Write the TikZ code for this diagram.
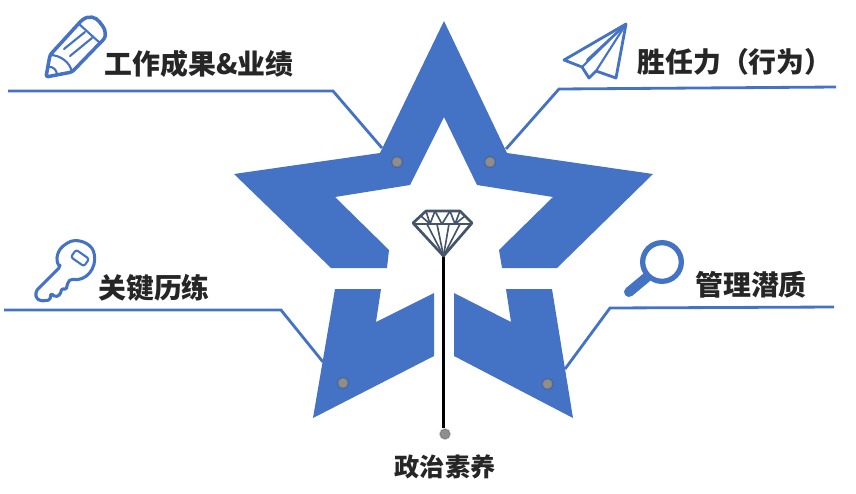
\documentclass[tikz,border=0pt]{standalone}
\usepackage{fontspec}
\usepackage{tikz}
\usetikzlibrary{calc}
\setmainfont{Noto Sans CJK SC}
\definecolor{starblue}{HTML}{4472C4}
\definecolor{gemgray}{HTML}{44546A}
\definecolor{dotgray}{HTML}{8E8E8E}

\begin{document}
\begin{tikzpicture}[
            x = 0.03cm, % one unit is one pixel of the layout
            y = -0.03cm,
            semithick, % line style
            leader/.style = {draw = starblue, line width = 2.4pt},
            icon/.style = {draw = starblue, line width = 3pt, line join = round, line cap = round},
            thinicon/.style = {draw = starblue, line width = 1.8pt, line join = round, line cap = round},
            gem/.style = {draw = gemgray, line width = 1.4pt, line join = round},
            pin/.style = {circle, fill = dotgray, draw = black, draw opacity = 0.12, line width = 1.4pt, minimum size = 0.32cm, inner sep = 0pt},
            title/.style = {font = \fontsize{23.8}{25}\selectfont\bfseries, inner sep = 0pt, text = black!85}
        ]
        \useasboundingbox (0,0) rectangle (856,493);

	% star pieces
        \fill[starblue] (234,174) -- (380,153) -- (444,21) -- (507,153) -- (653,174)
            -- (557,268) -- (502,268) -- (499,250) -- (553,197) -- (477,185) -- (444,117)
            -- (410,185) -- (335,197) -- (389,250) -- (387,268) -- (331,268) -- cycle;
        \fill[starblue] (335,289) -- (381,289) -- (376,322) -- (434,293) -- (434,356) -- (313,418) -- cycle;
        \fill[starblue] (506,289) -- (552,289) -- (573,418) -- (454,356) -- (454,293) -- (511,322) -- cycle;

	% labels
        \node[title] (work) at (199,64) {工作成果\&业绩};
        \node[title] (comp) at (735,62) {胜任力（行为）};
        \node[title] (exp) at (154,288) {关键历练};
        \node[title] (pot) at (751,285) {管理潜质};
        \node[title, font = \fontsize{21.5}{23}\selectfont\bfseries] (pol) at (445,467) {政治素养};

	% leader lines
        \coordinate (workA) at (8,91);
        \coordinate (workB) at (333,91);
        \coordinate (workC) at (382,148);
        \coordinate (compA) at (836,87);
        \coordinate (compB) at (559,89);
        \coordinate (compC) at (506,149);
        \coordinate (expA) at (4,310);
        \coordinate (expB) at (281,310);
        \coordinate (expC) at (323,362);
        \coordinate (potA) at (834,307);
        \coordinate (potB) at (610,308);
        \coordinate (potC) at (565,369);
        \draw[leader] (workA) -- (workB) -- (workC);
        \draw[leader] (compA) -- (compB) -- (compC);
        \draw[leader] (expA) -- (expB) -- (expC);
        \draw[leader] (potA) -- (potB) -- (potC);

	% pins
        \node[pin] (pinWork) at (397,162) {};
        \node[pin] (pinComp) at (490,162) {};
        \node[pin] (pinExp) at (343,383) {};
        \node[pin] (pinPot) at (547.5,384) {};
        \node[pin] (pinPol) at (445,434) {};

	% diamond and stem
        \coordinate (gemTip) at (443.5,256);
        \draw[black, line width = 2.4pt] (gemTip) -- (gemTip |- pinPol.north);
        \draw[gem, line width = 2.3pt] (426,211) -- (460,211) -- (472,223) -- (gemTip) -- (413,223) -- cycle;
        \draw[gem] (413,224) -- (472,224);
        \draw[gem] (426,211) -- (430,224) -- (435,211) -- (442,224) -- (450,211) -- (455,224) -- (460,211);
        \draw[gem] (421,216) -- (430,224);
        \draw[gem] (465,216) -- (455,224);
        \foreach \gx in {427,437,449,460}
            \draw[gem] (\gx,224) -- (gemTip);

	% pencil
        \draw[icon, rounded corners = 2pt] (46,77) -- (50,55) -- (81,21) .. controls (89,15) and (96,17) .. (101,24) .. controls (106,30) and (106,37) .. (102,41) -- (72,72) -- cycle;
        \draw[thinicon] (50,55) .. controls (60,55) and (70,62) .. (72,72);
        \draw[thinicon] (79,24) -- (100,43);
        \draw[thinicon] (64,49) -- (85,32);
        \draw[thinicon] (70,56) -- (92,38);
        \draw[thinicon] (48,67) .. controls (53,66) and (57,70) .. (57,75);

	% paper plane
        \draw[icon, line width = 2.4pt] (626,24) -- (564,60) -- (582,67) -- (589,78) -- (596,71) -- (616,78) -- cycle;
        \draw[thinicon] (626,24) -- (582,67);
        \draw[thinicon] (626,24) -- (596,71) -- (589,78);
        \draw[thinicon] (626,24) -- (587,60);

	% key
        \draw[icon, line width = 2.6pt, rounded corners = 1.5pt] (60,267) -- (36,291) -- (36,298) -- (41,301) -- (50,300) -- (51,293) -- (55,297) -- (60,295) -- (62,288) -- (66,290) -- (68,282) -- (71,279)
            .. controls (86,282) and (97,268) .. (94,253) .. controls (91,243) and (76,237) .. (66,244) .. controls (57,250) and (55,260) .. (60,267) -- cycle;
        \node[draw = starblue, line width = 1.8pt, rounded corners = 2pt, minimum width = 0.48cm, minimum height = 0.27cm, inner sep = 0pt, rotate = -35] (slot) at (80,258) {};

	% magnifier
        \node[circle, draw = starblue, line width = 4.5pt, minimum size = 1.16cm, inner sep = 0pt] (lens) at (662,262) {};
        \coordinate (grip) at (629,292);
        \draw[starblue, line width = 8.5pt, line cap = round] (lens.225) -- (grip);
\end{tikzpicture}
\end{document}
